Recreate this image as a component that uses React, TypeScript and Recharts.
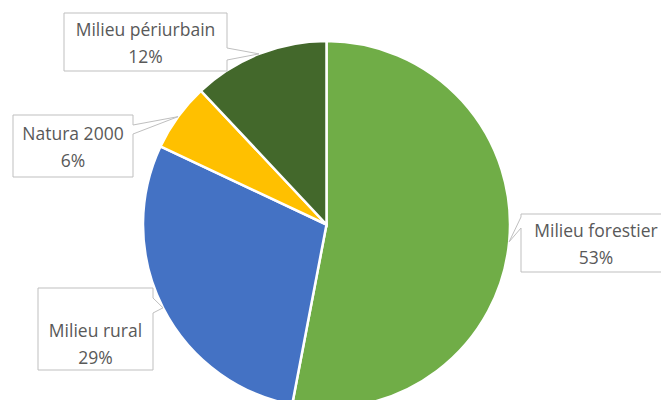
import { Cell, Pie, PieChart } from "recharts";

const categories = ["Milieu forestier", "Milieu rural", "Natura 2000", "Milieu périurbain"];
const shares = [53, 29, 6, 12];
const colors = ["#70ad47", "#4472c4", "#ffc000", "#43682b"];

// callout boxes, offsets from the pie centre; pointer = edge span (from box top); shift = text nudge
const callouts = [
  { dx: 194.5, dy: -10.5, w: 150, h: 58, side: "left", p0: 3, p1: 14, shift: 0 },
  { dx: -288.5, dy: 63.5, w: 115, h: 82, side: "right", p0: 10, p1: 25, shift: 14 },
  { dx: -313.5, dy: -109.5, w: 120, h: 62, side: "right", p0: 10, p1: 19, shift: 0 },
  { dx: -262.5, dy: -211.5, w: 163, h: 58, side: "right", p0: 35, p1: 47, shift: 0 },
];

const data = categories.map((name, i) => ({ name, value: shares[i] }));

const RAD = Math.PI / 180;

function Callout(props: any) {
  const { cx, cy, midAngle, outerRadius, index, name, value } = props;
  const c = callouts[index];
  const x = cx + c.dx;
  const y = cy + c.dy;
  const tx = cx + outerRadius * Math.cos(-midAngle * RAD);
  const ty = cy + outerRadius * Math.sin(-midAngle * RAD);
  let d: string;
  if (c.side === "right") {
    d = `M${x},${y} H${x + c.w} V${y + c.p0} L${tx},${ty} L${x + c.w},${y + c.p1} V${y + c.h} H${x} Z`;
  } else {
    d = `M${x},${y} H${x + c.w} V${y + c.h} H${x} V${y + c.p1} L${tx},${ty} L${x},${y + c.p0} Z`;
  }
  const mid = x + c.w / 2;
  const top = y + c.h / 2 + c.shift;
  const font = { fill: "#595959", fontSize: 17.5, fontFamily: "'Open Sans', sans-serif" };
  return (
    <g>
      <path d={d} fill="#ffffff" stroke="#bfbfbf" strokeWidth={1} />
      <text x={mid} y={top - 13.5} textAnchor="middle" dominantBaseline="central" {...font}>
        {name}
      </text>
      <text x={mid} y={top + 13.5} textAnchor="middle" dominantBaseline="central" {...font}>
        {value}%
      </text>
    </g>
  );
}

export default function App() {
  return (
    <div style={{ position: "fixed", left: 0, top: 0, width: 661, height: 400, background: "#fff" }}>
      <PieChart width={661} height={400} margin={{ top: 0, right: 0, bottom: 0, left: 0 }}>
        <Pie
          data={data}
          dataKey="value"
          nameKey="name"
          cx={326.5}
          cy={224.5}
          outerRadius={183.5}
          startAngle={90}
          endAngle={-270}
          stroke="#ffffff"
          strokeWidth={2.5}
          label={<Callout />}
          labelLine={false}
          isAnimationActive={false}
        >
          {data.map((d, i) => (
            <Cell key={d.name} fill={colors[i]} />
          ))}
        </Pie>
      </PieChart>
    </div>
  );
}
